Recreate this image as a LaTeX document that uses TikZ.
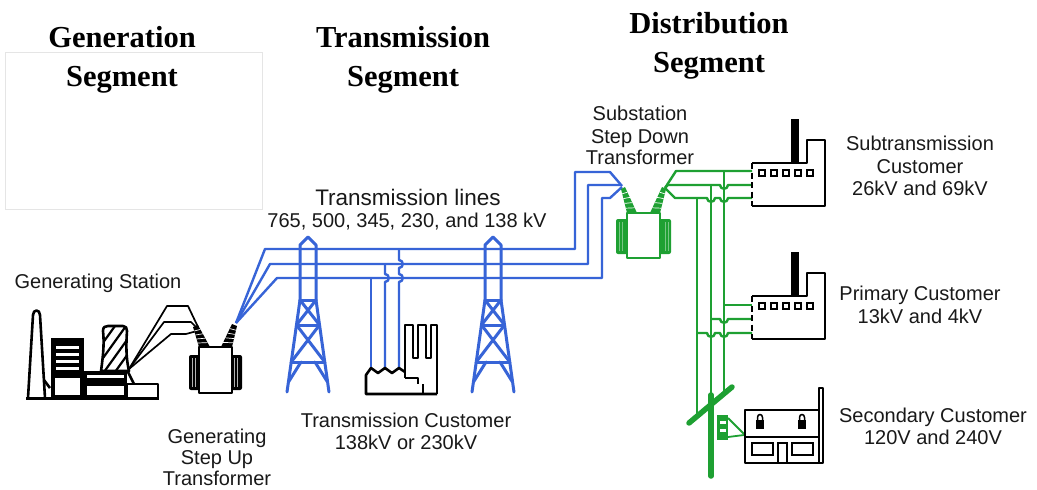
\documentclass[tikz,border=0pt]{standalone}
\usepackage{fontspec}
\setmainfont{Liberation Sans}
\newfontfamily\headfont{Liberation Serif}
\usetikzlibrary{calc}
\definecolor{tblue}{RGB}{55,100,215}
\definecolor{tgreen}{RGB}{30,160,50}
\definecolor{ink}{RGB}{25,25,25}
\tikzset{
  lbl/.style={font=\fontsize{20}{22}\selectfont, text=ink, inner sep=0pt, anchor=base},
  head/.style={font=\headfont\bfseries\fontsize{30.5}{32}\selectfont, text=black, inner sep=0pt, anchor=base},
  bw/.style={draw=black, line width=2.6pt, line join=round},
  bl/.style={draw=tblue, line width=2.4pt, line join=round},
  gr/.style={draw=tgreen, line width=2.4pt, line join=round},
  tw/.style={draw=tblue, line width=3pt, line join=round, line cap=round},
  wire/.style={draw=black, line width=1.7pt, line join=round}
}
\newcommand{\bushx}[5]{%
  \fill[#5] #1 -- #3 -- #4 -- #2 -- cycle;
  \foreach \t in {0.2,0.4,0.6,0.8} \draw[white, line width=0.7pt] ($#1!\t!#3$) -- ($#2!\t!#4$);
}
\newcommand{\ttower}[1]{%
  \begin{scope}[shift={(#1,0)}]
  \draw[tw] (-8,300) -- (-8,245) -- (0,237) -- (8,245) -- (8,300);
  \draw[tw] (-8,300) -- (-21,392) (8,300) -- (21,392);
  \draw[tw] (-8,300) -- (8,300) (-11.5,325) -- (11.5,325) (-16.8,362) -- (16.8,362);
  \draw[tw] (-8,300) -- (11.5,325) (8,300) -- (-11.5,325) (-11.5,325) -- (16.8,362) (11.5,325) -- (-16.8,362);
  \draw[tw] (-19.5,382) -- (-7,362) (19.5,382) -- (7,362);
  \end{scope}}
\newcommand{\factoryx}[1]{%
  \begin{scope}[shift={(0,#1)}]
  \fill[black] (791,119) rectangle (799,164);
  \draw[bw] (752,163) -- (807,163) -- (807,140) -- (825,140) -- (825,206) -- (752,206);
  \draw[black, line width=2.4pt, dash pattern=on 6pt off 3.5pt] (752,163) -- (752,206);
  \foreach \xx in {762,774,786,798,810} \draw[black, line width=1.8pt] (\xx-3,170) rectangle (\xx+3,176);
  \end{scope}}
\newcommand{\padlock}[1]{%
  \fill[black] (#1-4,420) rectangle (#1+4,429);
  \draw[black, line width=1.5pt] (#1-2.5,420) -- (#1-2.5,417.5) .. controls (#1-2.5,413.5) and (#1+2.5,413.5) .. (#1+2.5,417.5) -- (#1+2.5,420);}
\begin{document}
\begin{tikzpicture}[x=1pt,y=-1pt]
\useasboundingbox (0,0) rectangle (1037,490);
\fill[white] (0,0) rectangle (1037,490);
\draw[black!10, line width=0.8pt] (5,52) rectangle (262,209);

% headings
\node[head] (h1a) at (122,47) {Generation};
\node[head] (h1b) at (122,86) {Segment};
\node[head] (h2a) at (403,47) {Transmission};
\node[head] (h2b) at (403,86) {Segment};
\node[head] (h3a) at (709,33) {Distribution};
\node[head] (h3b) at (709,72) {Segment};

% labels
\node[lbl] (gs) at (98,288) {Generating Station};
\node[lbl] (gt1) at (217,443) {Generating};
\node[lbl] (gt2) at (217,464) {Step Up};
\node[lbl] (gt3) at (217,485) {Transformer};
\node[lbl, font=\fontsize{22.5}{24}\selectfont] (tl1) at (408,205) {Transmission lines};
\node[lbl] (tl2) at (407,227) {765, 500, 345, 230, and 138 kV};
\node[lbl] (tc1) at (406,427) {Transmission Customer};
\node[lbl] (tc2) at (406,449) {138kV or 230kV};
\node[lbl] (ss1) at (640,120) {Substation};
\node[lbl] (ss2) at (640,143) {Step Down};
\node[lbl] (ss3) at (640,164) {Transformer};
\node[lbl] (st1) at (920,150) {Subtransmission};
\node[lbl] (st2) at (920,173) {Customer};
\node[lbl] (st3) at (920,195) {26kV and 69kV};
\node[lbl] (pc1) at (920,300) {Primary Customer};
\node[lbl] (pc2) at (920,323) {13kV and 4kV};
\node[lbl] (sc1) at (933,422) {Secondary Customer};
\node[lbl] (sc2) at (933,444) {120V and 240V};

% ---------------- generating station
\draw[bw, fill=white] (28,398) -- (33,315) .. controls (33,309) and (40,309) .. (40,315) -- (45,398);
\fill[black] (51,338) rectangle (84,398);
\foreach \yy in {346,353,360,367} \fill[white] (56,\yy) rectangle (79,\yy+3);
\fill[white] (55,378) rectangle (80,395);
\fill[black] (84,371) rectangle (127,398);
\fill[white] (87,375) rectangle (124,378);
\fill[white] (87,386) rectangle (124,395);
\draw[bw, fill=white] (127,384) rectangle (158,398);
\draw[bw] (44,380) -- (50,388);
\draw[bw, fill=white] (101,371) .. controls (104,350) and (104,340) .. (103,331) .. controls (103,327) and (105,326) .. (108,326) -- (123,326) .. controls (126,326) and (127,328) .. (127,331) .. controls (126,345) and (126,358) .. (129,371) -- cycle;
\begin{scope}
\clip (101,371) .. controls (104,350) and (104,340) .. (103,331) .. controls (103,327) and (105,326) .. (108,326) -- (123,326) .. controls (126,326) and (127,328) .. (127,331) .. controls (126,345) and (126,358) .. (129,371) -- cycle;
\foreach \xa in {82,93,104,115} \draw[black, line width=2.2pt] (\xa,372) -- (\xa+33,326);
\end{scope}
\draw[black, line width=3pt] (26,398) -- (159,398);
\draw[bw] (127,370) -- (134,384);
\draw[wire] (129,369) -- (167,306) -- (188,306) -- (198,327);
\draw[wire] (129,369) -- (164,322) -- (191,322) -- (198,329);
\draw[wire] (129,369) -- (171,334) -- (186,334) -- (197,331);

% step-up transformer
\fill[black, rounded corners=2pt] (189,355) rectangle (200,390);
\fill[black, rounded corners=2pt] (231,355) rectangle (242,390);
\foreach \xx in {192,195,234,237} \draw[white!70!black, line width=0.4pt] (\xx,358) -- (\xx,387);
\draw[bw, fill=white] (199,347) rectangle (232,393);
\bushx{(199,347)}{(210,347)}{(193,327)}{(198,325)}{black}
\bushx{(221,347)}{(232,347)}{(232,324)}{(237,326)}{black}

% ---------------- transmission lines
\draw[bl] (236,323) -- (265,249) -- (575,249) -- (575,172) -- (610,172) -- (622,186);
\draw[bl] (236,323) -- (270,264) -- (588,264) -- (588,185) -- (621,185);
\draw[bl] (236,323) -- (277,278) -- (602,278) -- (602,198) -- (610,198) -- (622,187);
\ttower{308}
\ttower{493}

% drops to transmission customer
\draw[bl] (371,278) -- (371,368);
\draw[bl] (385,264) -- (385,274) .. controls (390,274) and (390,282) .. (385,282) -- (385,368);
\draw[bl] (399,249) -- (399,260) .. controls (404,260) and (404,268) .. (399,268) -- (399,274) .. controls (404,274) and (404,282) .. (399,282) -- (399,368);

% transmission customer factory
\draw[bw] (437,394) -- (366,394) -- (366,375) -- (371,368) -- (378,373) -- (385,368) -- (392,373) -- (399,368) -- (405,372);
\draw[bw] (405,378) -- (405,325) -- (413,325) -- (413,358) -- (418,358) -- (418,325) -- (426,325) -- (426,358) -- (431,358) -- (431,325) -- (437,325) -- (437,394);
\draw[bw] (405,378) -- (418,378) -- (418,384);
\draw[bw] (423,384) -- (423,394);

% ---------------- substation transformer
\fill[tgreen, rounded corners=2pt] (616,219) rectangle (628,254);
\fill[tgreen, rounded corners=2pt] (659,219) rectangle (671,254);
\foreach \xx in {619,622,665,668} \draw[white!40!tgreen, line width=0.4pt] (\xx,222) -- (\xx,251);
\draw[gr, fill=white] (627,213) rectangle (660,258);
\bushx{(627,213)}{(637,213)}{(621,189)}{(625,187)}{tgreen}
\bushx{(650,213)}{(660,213)}{(662,187)}{(666,189)}{tgreen}

% distribution lines
\draw[gr] (665,188) -- (676,171) -- (752,171);
\draw[gr] (665,188) -- (668,185) -- (720,185) .. controls (720,190) and (728,190) .. (728,185) -- (752,185);
\draw[gr] (665,188) -- (675,198) -- (707,198) .. controls (707,203) and (715,203) .. (715,198) -- (720,198) .. controls (720,203) and (728,203) .. (728,198) -- (752,198);
\draw[gr] (697,198) -- (697,415);
\draw[gr] (711,185) -- (711,400);
\draw[gr] (724,171) -- (724,393);
\draw[gr] (724,305) -- (752,305);
\draw[gr] (711,319) -- (720,319) .. controls (720,324) and (728,324) .. (728,319) -- (752,319);
\draw[gr] (697,333) -- (707,333) .. controls (707,338) and (715,338) .. (715,333) -- (720,333) .. controls (720,338) and (728,338) .. (728,333) -- (752,333);

% pole
\draw[tgreen, line width=5.5pt, line cap=round] (711,395) -- (711,476);
\draw[tgreen, line width=5.5pt, line cap=round] (689,423) -- (732,387);
\fill[tgreen] (717,415) rectangle (728,440);
\fill[white] (719.5,421) rectangle (725.5,423.5);
\fill[white] (719.5,429) rectangle (725.5,431.5);
\draw[tgreen, line width=1.8pt] (728,418) -- (744,434);
\draw[tgreen, line width=1.8pt] (728,437) -- (744,435);

% factories
\factoryx{0}
\factoryx{133}

% house
\draw[bw, fill=white] (745,410) rectangle (819,463);
\draw[bw] (745,437) -- (819,437);
\draw[bw, fill=white] (819,388) rectangle (823,463);
\draw[black, line width=1.8pt] (752,443) rectangle (773,455);
\draw[black, line width=1.8pt] (792,443) rectangle (813,455);
\draw[black, line width=1.8pt] (778,443) rectangle (787,463);
\padlock{760}
\padlock{802}
\end{tikzpicture}
\end{document}
